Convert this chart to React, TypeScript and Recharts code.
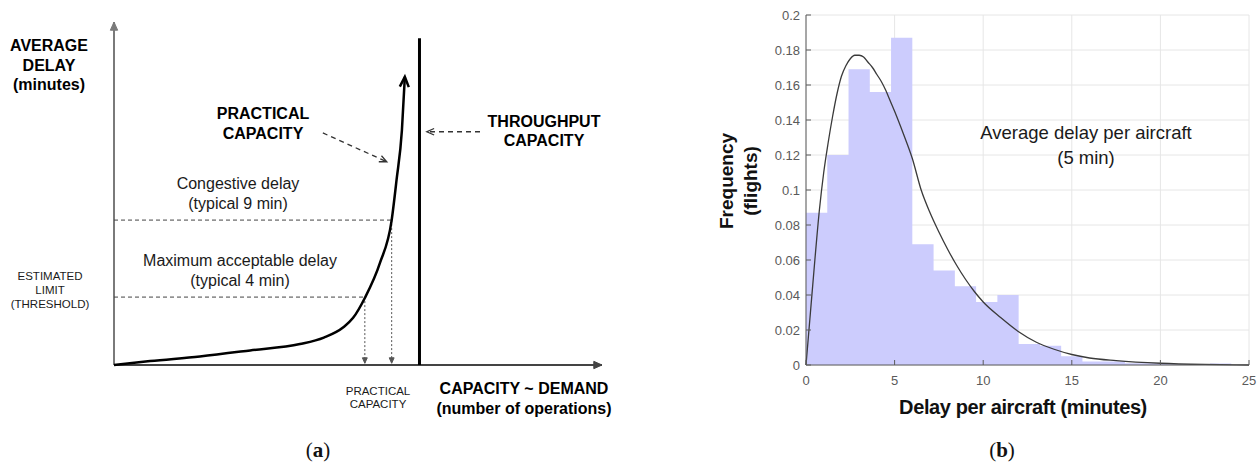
import React from "react";
import {
  LineChart,
  ComposedChart,
  Line,
  Area,
  XAxis,
  YAxis,
  CartesianGrid,
  ReferenceLine
} from "recharts";

// ---- panel (a): conceptual delay vs. demand (arbitrary units) ----
const demand = [0, 7.4, 17.6, 27.9, 38.1, 43.0, 47.0, 49.0, 51.4, 54.5, 56.9, 57.9, 59.0, 59.6];
const avgDelay = [0, 0.23, 0.5, 0.85, 1.22, 1.6, 2.2, 2.75, 3.91, 5.95, 8.45, 10.79, 13.7, 16.8];
const thresholdDelay = [3.96, 8.45]; // max acceptable, congestive
const practicalCapacity = [51.4, 56.9];
const throughputCapacity = 62.6;
const throughputTop = 19.05;
const practicalPointer = [
  { x: 42.8, y: 13.53 },
  { x: 55.9, y: 11.85 }
];
const throughputPointer = [
  { x: 75.0, y: 13.6 },
  { x: 64.1, y: 13.6 }
];

// ---- panel (b): delay histogram + fitted density ----
const binEdges = [0, 1.2, 2.4, 3.6, 4.8, 6.0, 7.2, 8.4, 9.6, 10.8, 12.0, 13.2, 14.4, 15.6, 16.8, 18.0, 19.2, 20.4, 21.6, 22.8, 24.0];
const binFreq = [0.087, 0.12, 0.169, 0.156, 0.187, 0.069, 0.054, 0.045, 0.036, 0.04, 0.012, 0.011, 0.005, 0.002, 0.002, 0.001, 0.001, 0.0005, 0.0003, 0.0008];
const fitX = [0, 0.25, 0.5, 0.75, 1.0, 1.25, 1.5, 1.75, 2.0, 2.25, 2.5, 2.75, 3.0, 3.25, 3.5, 3.75, 4.0, 4.25, 4.5, 4.75, 5.0, 5.5, 6.0, 6.5, 7.0, 7.5, 8.0, 8.5, 9.0, 9.5, 10, 11, 12, 13, 14, 15, 16, 17.5, 20, 22.5, 25];
const fitY = [0, 0.03, 0.06, 0.088, 0.11, 0.127, 0.142, 0.155, 0.165, 0.171, 0.175, 0.177, 0.177, 0.176, 0.173, 0.17, 0.166, 0.162, 0.157, 0.151, 0.145, 0.132, 0.118, 0.1, 0.087, 0.076, 0.066, 0.057, 0.049, 0.042, 0.036, 0.027, 0.019, 0.013, 0.009, 0.006, 0.004, 0.0025, 0.001, 0.0003, 0];
const xTicks = [0, 5, 10, 15, 20, 25];
const yTicks = [0, 0.02, 0.04, 0.06, 0.08, 0.1, 0.12, 0.14, 0.16, 0.18, 0.2];

const curveData = demand.map((d, i) => ({ demand: d, delay: avgDelay[i] }));
const histData = binEdges.map((x, i) => ({ x, freq: i < binFreq.length ? binFreq[i] : 0 }));
const fitData = fitX.map((x, i) => ({ x, pdf: fitY[i] }));

const SANS = "'Liberation Sans', Arial, sans-serif";

// line (optional) with an arrow head at the end point
const arrow = (head: "filled" | "open", size: number, drawLine = true) => (p: any) => {
  const { x1, y1, x2, y2, stroke, strokeWidth, strokeDasharray } = p;
  const a = Math.atan2(y2 - y1, x2 - x1);
  const w = 0.42;
  const ax = x2 - size * Math.cos(a - w);
  const ay = y2 - size * Math.sin(a - w);
  const bx = x2 - size * Math.cos(a + w);
  const by = y2 - size * Math.sin(a + w);
  return (
    <g>
      {drawLine && (
        <line x1={x1} y1={y1} x2={x2} y2={y2} stroke={stroke} strokeWidth={strokeWidth} strokeDasharray={strokeDasharray} />
      )}
      {head === "filled" ? (
        <polygon points={`${x2},${y2} ${ax},${ay} ${bx},${by}`} fill={stroke} stroke={stroke} strokeWidth={1} />
      ) : (
        <polyline points={`${ax},${ay} ${x2},${y2} ${bx},${by}`} fill="none" stroke={stroke} strokeWidth={strokeWidth} strokeLinejoin="miter" />
      )}
    </g>
  );
};

const aLabels = [
  { x: 49, y: 45, t: "AVERAGE", s: 16, b: true },
  { x: 49, y: 65, t: "DELAY", s: 16, b: true },
  { x: 49, y: 84, t: "(minutes)", s: 16, b: true },
  { x: 263, y: 113, t: "PRACTICAL", s: 16, b: true },
  { x: 263, y: 133, t: "CAPACITY", s: 16, b: true },
  { x: 544, y: 121, t: "THROUGHPUT", s: 16, b: true },
  { x: 544, y: 140, t: "CAPACITY", s: 16, b: true },
  { x: 238, y: 183, t: "Congestive delay", s: 16, b: false },
  { x: 238, y: 203, t: "(typical 9 min)", s: 16, b: false },
  { x: 240, y: 260, t: "Maximum acceptable delay", s: 16, b: false },
  { x: 240, y: 280, t: "(typical 4 min)", s: 16, b: false },
  { x: 50, y: 276, t: "ESTIMATED", s: 11.5, b: false },
  { x: 50, y: 290, t: "LIMIT", s: 11.5, b: false },
  { x: 50, y: 304, t: "(THRESHOLD)", s: 11.5, b: false },
  { x: 378, y: 391, t: "PRACTICAL", s: 11.5, b: false },
  { x: 378, y: 404, t: "CAPACITY", s: 11.5, b: false },
  { x: 524, y: 388, t: "CAPACITY ~ DEMAND", s: 16, b: true },
  { x: 524, y: 408, t: "(number of operations)", s: 16, b: true }
];

const fmt = (v: number) => String(+v.toFixed(2));

const YTick = (p: any) => {
  const ax = p.x + 6;
  return (
    <g>
      <line x1={ax} x2={ax + 5} y1={p.y} y2={p.y} stroke="#5a5a5a" />
      <text x={p.x} y={p.y} textAnchor="end" dominantBaseline="central" fill="#5a5a5a" fontSize={13} fontFamily={SANS}>
        {fmt(p.payload.value)}
      </text>
    </g>
  );
};

const XTick = (p: any) => {
  const ay = p.y - 10;
  return (
    <g>
      <line x1={p.x} x2={p.x} y1={ay} y2={ay - 5} stroke="#5a5a5a" />
      <text x={p.x} y={p.y} textAnchor="middle" dominantBaseline="hanging" fill="#5a5a5a" fontSize={13} fontFamily={SANS}>
        {p.payload.value}
      </text>
    </g>
  );
};

function DelayConcept() {
  return (
    <LineChart width={640} height={467} data={curveData} margin={{ top: 22, right: 38, bottom: 102, left: 114 }}>
      <XAxis dataKey="demand" type="number" domain={[0, 100]} hide />
      <YAxis type="number" domain={[0, 20]} hide />
      <ReferenceLine segment={[{ x: 0, y: 0 }, { x: 0, y: 20 }]} stroke="#7a7a7a" strokeWidth={2} ifOverflow="visible" shape={arrow("filled", 9)} />
      <ReferenceLine segment={[{ x: 0, y: 0 }, { x: 100, y: 0 }]} stroke="#444" strokeWidth={2} ifOverflow="visible" shape={arrow("filled", 9)} />
      <ReferenceLine segment={[{ x: 0, y: thresholdDelay[1] }, { x: practicalCapacity[1], y: thresholdDelay[1] }]} stroke="#444" strokeWidth={1} strokeDasharray="4 3" ifOverflow="visible" />
      <ReferenceLine segment={[{ x: 0, y: thresholdDelay[0] }, { x: practicalCapacity[0], y: thresholdDelay[0] }]} stroke="#444" strokeWidth={1} strokeDasharray="4 3" ifOverflow="visible" />
      <ReferenceLine segment={[{ x: practicalCapacity[0], y: thresholdDelay[0] }, { x: practicalCapacity[0], y: 0.1 }]} stroke="#555" strokeWidth={1} strokeDasharray="2 2" ifOverflow="visible" shape={arrow("filled", 6)} />
      <ReferenceLine segment={[{ x: practicalCapacity[1], y: thresholdDelay[1] }, { x: practicalCapacity[1], y: 0.1 }]} stroke="#555" strokeWidth={1} strokeDasharray="2 2" ifOverflow="visible" shape={arrow("filled", 6)} />
      <ReferenceLine segment={[{ x: throughputCapacity, y: 0 }, { x: throughputCapacity, y: throughputTop }]} stroke="#000" strokeWidth={3} ifOverflow="visible" />
      <ReferenceLine segment={practicalPointer} stroke="#333" strokeWidth={1.3} strokeDasharray="5 4" ifOverflow="visible" shape={arrow("open", 8)} />
      <ReferenceLine segment={throughputPointer} stroke="#333" strokeWidth={1.3} strokeDasharray="5 4" ifOverflow="visible" shape={arrow("open", 8)} />
      <Line dataKey="delay" type="monotone" stroke="#000" strokeWidth={2.5} dot={false} isAnimationActive={false} />
      <ReferenceLine
        segment={[
          { x: demand[demand.length - 2], y: avgDelay[avgDelay.length - 2] },
          { x: demand[demand.length - 1], y: avgDelay[avgDelay.length - 1] }
        ]}
        stroke="#000"
        strokeWidth={2.5}
        ifOverflow="visible"
        shape={arrow("open", 11, false)}
      />
      <g fontFamily={SANS}>
        {aLabels.map((l) => (
          <text key={l.t + l.y} x={l.x} y={l.y} textAnchor="middle" dominantBaseline="central" fontSize={l.s} fontWeight={l.b ? 700 : 400} fill={l.b ? "#000" : "#1a1a1a"}>
            {l.t}
          </text>
        ))}
      </g>
    </LineChart>
  );
}

function DelayHistogram() {
  return (
    <ComposedChart width={559} height={467} margin={{ top: 15, right: 10, bottom: 82, left: 66 }}>
      <CartesianGrid stroke="#e6e6e6" />
      <XAxis dataKey="x" type="number" domain={[0, 25]} ticks={xTicks} height={20} axisLine={{ stroke: "#5a5a5a" }} tickLine={false} tickSize={0} tickMargin={10} tick={<XTick />} />
      <YAxis type="number" domain={[0, 0.2]} ticks={yTicks} width={40} axisLine={{ stroke: "#5a5a5a" }} tickLine={false} tickSize={0} tickMargin={6} tick={<YTick />} />
      <XAxis xAxisId="top" orientation="top" mirror type="number" domain={[0, 25]} ticks={xTicks} height={0} tick={false} tickSize={5} axisLine={{ stroke: "#5a5a5a" }} tickLine={{ stroke: "#5a5a5a" }} />
      <YAxis yAxisId="right" orientation="right" mirror type="number" domain={[0, 0.2]} ticks={yTicks} width={0} tick={false} tickSize={5} axisLine={{ stroke: "#5a5a5a" }} tickLine={{ stroke: "#5a5a5a" }} />
      <Area data={histData} dataKey="freq" type="stepAfter" fill="#ccccfd" fillOpacity={1} stroke="none" isAnimationActive={false} />
      <Line data={fitData} dataKey="pdf" type="monotone" stroke="#3a3a3a" strokeWidth={1.3} dot={false} isAnimationActive={false} />
      <g fontFamily={SANS}>
        <text x={386} y={132} textAnchor="middle" dominantBaseline="central" fontSize={18.5} fill="#1a1a1a">
          Average delay per aircraft
        </text>
        <text x={386} y={157} textAnchor="middle" dominantBaseline="central" fontSize={18.5} fill="#1a1a1a">
          (5 min)
        </text>
        <text x={323} y={407} textAnchor="middle" dominantBaseline="central" fontSize={20} fontWeight={700} fill="#111" letterSpacing={-0.4}>
          Delay per aircraft (minutes)
        </text>
        <text transform="translate(26,181) rotate(-90)" textAnchor="middle" dominantBaseline="central" fontSize={19} fontWeight={700} fill="#111">
          Frequency
        </text>
        <text transform="translate(50,181) rotate(-90)" textAnchor="middle" dominantBaseline="central" fontSize={19} fontWeight={700} fill="#111">
          (flights)
        </text>
      </g>
    </ComposedChart>
  );
}

const caption: React.CSSProperties = {
  position: "absolute",
  top: 438,
  width: 40,
  textAlign: "center",
  fontFamily: "'Liberation Serif', 'DejaVu Serif', serif",
  fontSize: 21,
  color: "#111"
};

export default function App() {
  return (
    <div style={{ position: "absolute", left: 0, top: 0, width: 1259, height: 467, background: "#fff", overflow: "hidden" }}>
      <div style={{ position: "absolute", left: 0, top: 0 }}>
        <DelayConcept />
      </div>
      <div style={{ position: "absolute", left: 700, top: 0 }}>
        <DelayHistogram />
      </div>
      <div style={{ ...caption, left: 298 }}>
        (<b>a</b>)
      </div>
      <div style={{ ...caption, left: 982 }}>
        (<b>b</b>)
      </div>
    </div>
  );
}
